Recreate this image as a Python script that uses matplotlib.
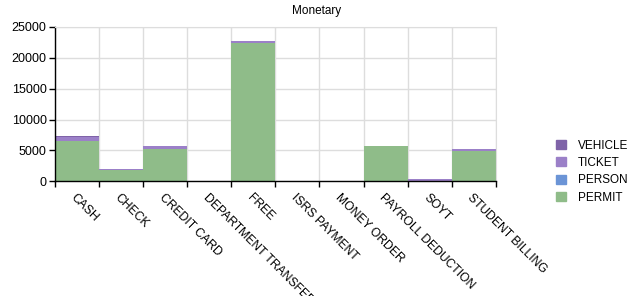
import matplotlib
matplotlib.use("Agg")
import matplotlib.pyplot as plt
import numpy as np
from matplotlib.patches import Patch

plt.rcParams["font.family"] = ["Liberation Sans", "DejaVu Sans"]

# --- data ---
categories = ["CASH", "CHECK", "CREDIT CARD", "DEPARTMENT TRANSFER", "FREE",
              "ISRS PAYMENT", "MONEY ORDER", "PAYROLL DEDUCTION", "SOYT", "STUDENT BILLING"]
permit = [6500, 1800, 5200, 100, 22400, 30, 20, 5650, 100, 4900]
person = [0, 0, 0, 0, 0, 0, 0, 0, 0, 0]
ticket = [750, 280, 450, 0, 290, 0, 0, 0, 300, 300]
vehicle = [60, 0, 50, 0, 0, 0, 0, 0, 0, 0]

series = [("PERMIT", permit, "#8fbc89"),
          ("PERSON", person, "#6b94d6"),
          ("TICKET", ticket, "#9b80c8"),
          ("VEHICLE", vehicle, "#7f63a8")]

fig = plt.figure(figsize=(6.37, 2.96), dpi=100)
ax = fig.add_axes([0.0863, 0.387, 0.692, 0.523])

x = np.arange(len(categories))
bottom = np.zeros(len(categories))
for name, vals, color in series:
    vals = np.array(vals, dtype=float)
    ax.bar(x, vals, width=1.0, bottom=bottom, color=color, linewidth=0, zorder=2)
    bottom += vals

ax.set_xlim(-0.5, len(categories) - 0.5)
ax.set_ylim(0, 25000)
ax.set_yticks(range(0, 25001, 5000))
ax.tick_params(axis="y", labelsize=9, length=4, width=1, colors="black", pad=2)

# boundaries carry the ticks and grid; centres carry the labels
ax.set_xticks(np.arange(-0.5, len(categories), 1.0))
ax.set_xticklabels([])
ax.set_xticks(x, minor=True)
ax.set_xticklabels(categories, minor=True, rotation=-45, ha="left", va="top",
                   rotation_mode="anchor", fontsize=8.7)
ax.tick_params(axis="x", which="major", length=4, width=1)
ax.tick_params(axis="x", which="minor", length=0, pad=7)

ax.grid(True, color="#dddddd", lw=1, zorder=0)
ax.set_axisbelow(True)
for s in ("top", "right"):
    ax.spines[s].set_color("#dddddd")
for s in ("left", "bottom"):
    ax.spines[s].set_color("black")
    ax.spines[s].set_linewidth(1)

fig.text(0.497, 0.962, "Monetary", ha="center", va="center", fontsize=8.5)

handles = [Patch(color=c, label=n) for n, _, c in reversed(series)]
fig.legend(handles=handles, loc="center left", bbox_to_anchor=(0.866, 0.42),
           frameon=False, fontsize=8.5, handlelength=0.8, handleheight=0.8,
           handletextpad=1.0, labelspacing=0.45, borderaxespad=0)

fig.savefig("out.png", dpi=100)
